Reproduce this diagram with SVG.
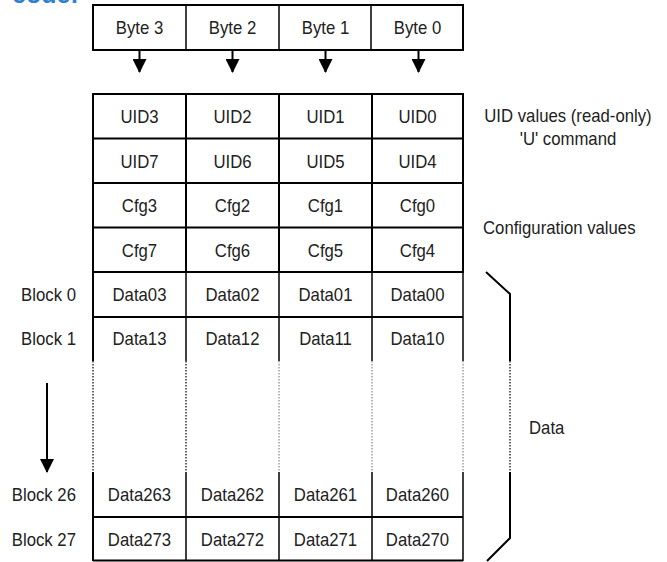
<svg xmlns="http://www.w3.org/2000/svg" width="667" height="562" viewBox="0 0 667 562">
<style>
text{font-family:"Liberation Sans",Arial,sans-serif;font-size:18px;fill:#222;transform-box:fill-box;transform:scaleX(0.93);transform-origin:left center}
.c{text-anchor:middle;transform-origin:center}
.r{text-anchor:end;transform-origin:right center}
.ln{stroke:#000;stroke-width:2;fill:none}
.thin{stroke:#000;stroke-width:1.5;fill:none}
.dot{stroke:#333;stroke-width:1.5;stroke-dasharray:1.5 1.5;fill:none}
.dotl{stroke:#888;stroke-width:1.2;stroke-dasharray:1.5 1.5;fill:none}
text.code{font-size:25px;fill:#2F80D0;font-weight:bold;transform:none}
</style>
<defs>
<marker id="ah" markerUnits="userSpaceOnUse" markerWidth="14" markerHeight="14" viewBox="0 0 14 14" refX="13" refY="7" orient="auto">
<path d="M0,0 L14,7 L0,14 z" fill="#000"/>
</marker>
</defs>
<rect width="667" height="562" fill="#fff"/>
<text class="code" x="12" y="3">code:</text>

<g id="byte-row">
<rect class="ln" x="93" y="5" width="370" height="45"/>
<line class="thin" x1="186" y1="5" x2="186" y2="50"/>
<line class="thin" x1="279" y1="5" x2="279" y2="50"/>
<line class="thin" x1="371" y1="5" x2="371" y2="50"/>
</g>
<g id="byte3"><text class="c" x="139.5" y="34">Byte 3</text></g>
<g id="byte2"><text class="c" x="232.5" y="34">Byte 2</text></g>
<g id="byte1"><text class="c" x="325.5" y="34">Byte 1</text></g>
<g id="byte0"><text class="c" x="417.5" y="34">Byte 0</text></g>

<g id="grid">
<rect class="ln" x="93" y="94" width="370" height="178"/>
<line class="ln" x1="93" y1="138.5" x2="463" y2="138.5"/>
<line class="ln" x1="93" y1="183" x2="463" y2="183"/>
<line class="ln" x1="93" y1="227.5" x2="463" y2="227.5"/>
<line class="ln" x1="186" y1="94" x2="186" y2="272"/>
<line class="ln" x1="279" y1="94" x2="279" y2="272"/>
<line class="ln" x1="372" y1="94" x2="372" y2="272"/>
<line class="ln" x1="93" y1="317" x2="463" y2="317"/>
<line class="ln" x1="93" y1="272" x2="93" y2="361"/>
<line class="thin" x1="186" y1="272" x2="186" y2="361"/>
<line class="thin" x1="279" y1="272" x2="279" y2="361"/>
<line class="thin" x1="372" y1="272" x2="372" y2="361"/>
<line class="thin" x1="463" y1="272" x2="463" y2="361"/>
<line class="dot" x1="93" y1="361" x2="93" y2="472"/>
<line class="dot" x1="186" y1="361" x2="186" y2="472"/>
<line class="dotl" x1="279" y1="361" x2="279" y2="472"/>
<line class="dotl" x1="372" y1="361" x2="372" y2="472"/>
<line class="dotl" x1="463" y1="361" x2="463" y2="472"/>
<line class="ln" x1="93" y1="472" x2="93" y2="561"/>
<line class="thin" x1="186" y1="472" x2="186" y2="561"/>
<line class="thin" x1="279" y1="472" x2="279" y2="561"/>
<line class="thin" x1="372" y1="472" x2="372" y2="561"/>
<line class="thin" x1="463" y1="472" x2="463" y2="561"/>
<line class="ln" x1="93" y1="517" x2="463" y2="517"/>
<line class="ln" x1="93" y1="560.5" x2="463" y2="560.5"/>
</g>

<g id="uid-row1">
<text class="c" x="139.5" y="123">UID3</text><text class="c" x="232.5" y="123">UID2</text><text class="c" x="325.5" y="123">UID1</text><text class="c" x="417.5" y="123">UID0</text>
</g>
<g id="uid-row2">
<text class="c" x="139.5" y="168">UID7</text><text class="c" x="232.5" y="168">UID6</text><text class="c" x="325.5" y="168">UID5</text><text class="c" x="417.5" y="168">UID4</text>
</g>
<g id="cfg-row1">
<text class="c" x="139.5" y="212">Cfg3</text><text class="c" x="232.5" y="212">Cfg2</text><text class="c" x="325.5" y="212">Cfg1</text><text class="c" x="417.5" y="212">Cfg0</text>
</g>
<g id="cfg-row2">
<text class="c" x="139.5" y="257">Cfg7</text><text class="c" x="232.5" y="257">Cfg6</text><text class="c" x="325.5" y="257">Cfg5</text><text class="c" x="417.5" y="257">Cfg4</text>
</g>
<g id="block0">
<text class="r" x="76" y="301">Block 0</text>
<text class="c" x="139.5" y="301">Data03</text><text class="c" x="232.5" y="301">Data02</text><text class="c" x="325.5" y="301">Data01</text><text class="c" x="417.5" y="301">Data00</text>
</g>
<g id="block1">
<text class="r" x="76" y="345">Block 1</text>
<text class="c" x="139.5" y="345">Data13</text><text class="c" x="232.5" y="345">Data12</text><text class="c" x="325.5" y="345">Data11</text><text class="c" x="417.5" y="345">Data10</text>
</g>
<g id="block26">
<text class="r" x="76" y="501">Block 26</text>
<text class="c" x="139.5" y="501">Data263</text><text class="c" x="232.5" y="501">Data262</text><text class="c" x="325.5" y="501">Data261</text><text class="c" x="417.5" y="501">Data260</text>
</g>
<g id="block27">
<text class="r" x="76" y="546">Block 27</text>
<text class="c" x="139.5" y="546">Data273</text><text class="c" x="232.5" y="546">Data272</text><text class="c" x="325.5" y="546">Data271</text><text class="c" x="417.5" y="546">Data270</text>
</g>

<g id="labels">
<text class="c" x="568" y="122">UID values (read-only)</text>
<text class="c" x="568" y="145">'U' command</text>
<text x="483" y="234">Configuration values</text>
<text x="529" y="434">Data</text>
</g>

<g id="connectors">
<line class="ln" x1="139.5" y1="50" x2="139.5" y2="72" marker-end="url(#ah)"/>
<line class="ln" x1="232.5" y1="50" x2="232.5" y2="72" marker-end="url(#ah)"/>
<line class="ln" x1="325.5" y1="50" x2="325.5" y2="72" marker-end="url(#ah)"/>
<line class="ln" x1="418.5" y1="50" x2="418.5" y2="72" marker-end="url(#ah)"/>
<line class="ln" x1="47" y1="383" x2="47" y2="472" marker-end="url(#ah)"/>
<path class="ln" d="M486,272 L510,294 L510,361"/>
<line class="dot" x1="510" y1="361" x2="510" y2="472"/>
<path class="ln" d="M510,472 L510,538 L487,561"/>
</g>
</svg>
